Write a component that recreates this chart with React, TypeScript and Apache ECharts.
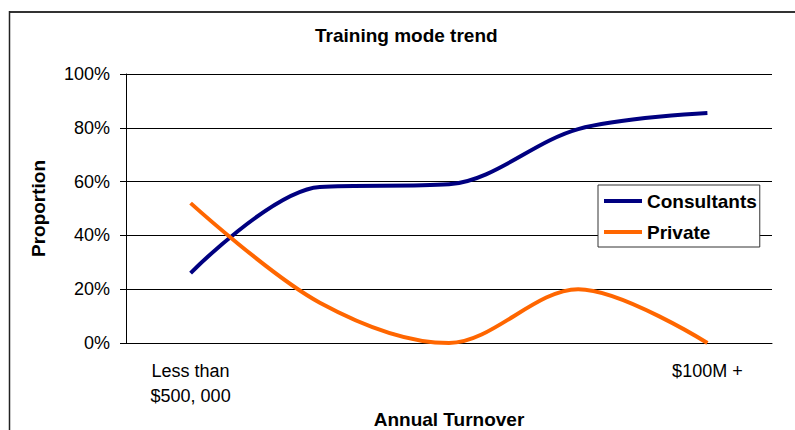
import React, { useEffect, useRef } from "react";
import * as echarts from "echarts";

const categories = ["Less than\n$500, 000", "", "", "", "$100M +"];
const consultants = [0.26, 0.58, 0.59, 0.795, 0.855];
const privateMode = [0.52, 0.15, 0.0, 0.2, 0.0];
const yTicks = [0, 0.2, 0.4, 0.6, 0.8, 1.0];

const FONT = "Arial, 'Liberation Sans', Helvetica, sans-serif";

export default function App() {
  const ref = useRef<HTMLDivElement>(null);
  useEffect(() => {
    if (!ref.current) return;
    const chart = echarts.init(ref.current, null, { renderer: "svg", width: 795, height: 430 });
    chart.setOption({
      animation: false,
      backgroundColor: "#fff",
      textStyle: { fontFamily: FONT },
      title: {
        text: "Training mode trend",
        left: 315,
        top: 26,
        padding: 0,
        textStyle: { fontFamily: FONT, fontSize: 19, fontWeight: "bold", color: "#000" },
      },
      grid: { left: 126, right: 23, top: 74, bottom: 87, containLabel: false, outerBoundsMode: "none" },
      legend: {
        orient: "vertical",
        left: 598,
        top: 185,
        padding: [6, 3, 5, 6],
        itemGap: 11,
        itemWidth: 38,
        itemHeight: 4,
        icon: "rect",
        backgroundColor: "#fff",
        borderColor: "#333",
        borderWidth: 1,
        borderRadius: 0,
        textStyle: { fontFamily: FONT, fontSize: 19, fontWeight: "bold", color: "#000", lineHeight: 20 },
        data: ["Consultants", "Private"],
      },
      xAxis: {
        type: "category",
        data: categories,
        boundaryGap: true,
        name: "Annual Turnover",
        nameLocation: "middle",
        nameGap: 67,
        nameMoveOverlap: false,
        nameTextStyle: { fontFamily: FONT, fontSize: 19, fontWeight: "bold", color: "#000", lineHeight: 19 },
        axisLine: { show: true, lineStyle: { color: "#000", width: 1 } },
        axisTick: { show: false },
        axisLabel: {
          interval: 0,
          margin: 15,
          fontFamily: FONT,
          fontSize: 18,
          lineHeight: 25,
          color: "#000",
        },
        splitLine: { show: false },
      },
      yAxis: {
        type: "value",
        min: 0,
        max: 1,
        interval: 0.2,
        name: "Proportion",
        nameLocation: "middle",
        nameGap: 78,
        nameRotate: 90,
        nameMoveOverlap: false,
        nameTextStyle: { fontFamily: FONT, fontSize: 19, fontWeight: "bold", color: "#000" },
        axisLine: { show: true, lineStyle: { color: "#000", width: 1 } },
        axisTick: { show: true, length: 6, inside: false, lineStyle: { color: "#000" } },
        axisLabel: {
          margin: 16,
          fontFamily: FONT,
          fontSize: 18,
          color: "#000",
          formatter: (v: number) => (yTicks.includes(Math.round(v * 10) / 10) ? Math.round(v * 100) + "%" : ""),
        },
        splitLine: { show: true, lineStyle: { color: "#000", width: 1 } },
      },
      series: [
        {
          name: "Consultants",
          type: "line",
          data: consultants,
          smooth: 0.33,
          symbol: "none",
          lineStyle: { color: "#000080", width: 4 },
          itemStyle: { color: "#000080" },
        },
        {
          name: "Private",
          type: "line",
          data: privateMode,
          smooth: 0.33,
          symbol: "none",
          lineStyle: { color: "#FF6600", width: 4 },
          itemStyle: { color: "#FF6600" },
        },
      ],
      graphic: [
        {
          type: "line",
          shape: { x1: 9, y1: 12, x2: 800, y2: 12 },
          style: { stroke: "#333", lineWidth: 2 },
          silent: true,
        },
        {
          type: "line",
          shape: { x1: 9.5, y1: 11, x2: 9.5, y2: 440 },
          style: { stroke: "#222", lineWidth: 1.5 },
          silent: true,
        },
      ],
    });
    return () => chart.dispose();
  }, []);
  return (
    <div
      ref={ref}
      style={{ position: "fixed", left: 0, top: 0, width: 795, height: 430 }}
    />
  );
}
